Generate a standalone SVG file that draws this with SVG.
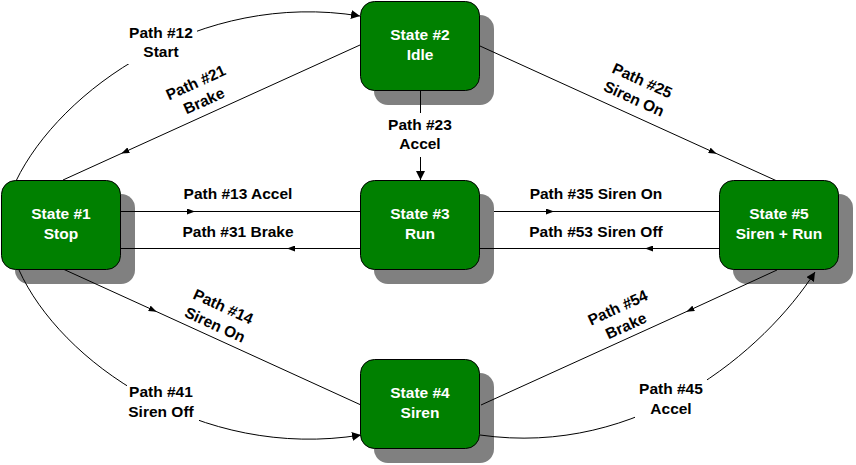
<svg xmlns="http://www.w3.org/2000/svg" width="856" height="465" viewBox="0 0 856 465">
<style>
.bg{fill:#ffffff}
.shadow{fill:#808080}
.box{fill:#008000;stroke:#000000;stroke-width:1}
.st{font-family:"Liberation Sans",Arial,sans-serif;font-size:15.5px;font-weight:bold;fill:#ffffff;text-anchor:middle}
.lb{font-family:"Liberation Sans",Arial,sans-serif;font-size:15.5px;font-weight:bold;fill:#000000;text-anchor:middle}
.ln{fill:none;stroke:#000000;stroke-width:1}
.mid{marker-mid:url(#am)}
.end{marker-end:url(#ae)}
.mask{fill:#ffffff}
</style>
<defs>
<marker id="am" viewBox="0 0 8 6" refX="4" refY="3" markerWidth="8" markerHeight="6" markerUnits="userSpaceOnUse" orient="auto">
<path d="M0,0 L8,3 L0,6 z" fill="#000000"/>
</marker>
<marker id="ae" viewBox="0 0 9 9" refX="9" refY="4.5" markerWidth="9" markerHeight="9" markerUnits="userSpaceOnUse" orient="auto">
<path d="M0,0 L9,4.5 L0,9 z" fill="#000000"/>
</marker>
</defs>
<rect class="bg" x="0" y="0" width="856" height="465"/>
<g id="shadows">
<rect class="shadow" x="15" y="194" width="120" height="90" rx="14"/>
<rect class="shadow" x="374" y="15" width="120" height="90" rx="14"/>
<rect class="shadow" x="374" y="194" width="120" height="90" rx="14"/>
<rect class="shadow" x="374" y="373" width="120" height="90" rx="14"/>
<rect class="shadow" x="733" y="194" width="120" height="90" rx="14"/>
</g>
<g id="connectors">
<path class="ln end" d="M16,181 C60,90 200,-10 360,16"/>
<rect class="mask" x="127" y="20" width="70" height="44"/>
<path class="ln mid" d="M360,45 L125,151.8 L63,180"/>
<path class="ln mid" d="M480,46 L713,152 L777,181"/>
<path class="ln" d="M420.5,91 V113"/>
<path class="ln end" d="M420.5,157 V180"/>
<path class="ln mid" d="M120,211.5 L191,211.5 L361,211.5"/>
<path class="ln mid" d="M361,248.5 L291,248.5 L120,248.5"/>
<path class="ln mid" d="M494,211.5 L550,211.5 L719,211.5"/>
<path class="ln mid" d="M719,248.5 L649,248.5 L479,248.5"/>
<path class="ln mid" d="M63,269 L153,310 L361,405"/>
<path class="ln mid" d="M777,270 L690,310 L481,405"/>
<path class="ln end" d="M19,270 C60,361 200,461 361,435"/>
<rect class="mask" x="127" y="379" width="72" height="45"/>
<path class="ln end" d="M480,435 C640,458 765,350 815,272"/>
<rect class="mask" x="635" y="376" width="72" height="42"/>
<g id="labels">
<text class="lb" x="161" y="38">Path #12</text>
<text class="lb" x="161" y="57">Start</text>
<text class="lb" x="420" y="130">Path #23</text>
<text class="lb" x="420" y="149">Accel</text>
<text class="lb" x="238" y="199">Path #13 Accel</text>
<text class="lb" x="238" y="237">Path #31 Brake</text>
<text class="lb" x="596" y="199">Path #35 Siren On</text>
<text class="lb" x="596" y="237">Path #53 Siren Off</text>
<g transform="translate(200,92) rotate(-24.4)"><text class="lb" x="0" y="-5">Path #21</text><text class="lb" x="0" y="15">Brake</text></g>
<g transform="translate(638,90) rotate(24.4)"><text class="lb" x="0" y="-5">Path #25</text><text class="lb" x="0" y="15">Siren On</text></g>
<g transform="translate(219,316) rotate(24.5)"><text class="lb" x="0" y="-5">Path #14</text><text class="lb" x="0" y="15">Siren On</text></g>
<g transform="translate(622,317) rotate(-24.5)"><text class="lb" x="0" y="-5">Path #54</text><text class="lb" x="0" y="15">Brake</text></g>
<text class="lb" x="161" y="397">Path #41</text>
<text class="lb" x="161" y="417">Siren Off</text>
<text class="lb" x="671" y="394">Path #45</text>
<text class="lb" x="671" y="414">Accel</text>
</g>
</g>
<g id="state1">
<rect class="box" x="1.5" y="180.5" width="119" height="89" rx="14"/>
<text class="st" x="61" y="219">State #1</text>
<text class="st" x="61" y="239">Stop</text>
</g>
<g id="state2">
<rect class="box" x="360.5" y="1.5" width="119" height="89" rx="14"/>
<text class="st" x="420" y="40">State #2</text>
<text class="st" x="420" y="60">Idle</text>
</g>
<g id="state3">
<rect class="box" x="360.5" y="180.5" width="119" height="89" rx="14"/>
<text class="st" x="420" y="219">State #3</text>
<text class="st" x="420" y="239">Run</text>
</g>
<g id="state4">
<rect class="box" x="360.5" y="359.5" width="119" height="89" rx="14"/>
<text class="st" x="420" y="398">State #4</text>
<text class="st" x="420" y="418">Siren</text>
</g>
<g id="state5">
<rect class="box" x="719.5" y="180.5" width="119" height="89" rx="14"/>
<text class="st" x="779" y="219">State #5</text>
<text class="st" x="779" y="239">Siren + Run</text>
</g>
</svg>
